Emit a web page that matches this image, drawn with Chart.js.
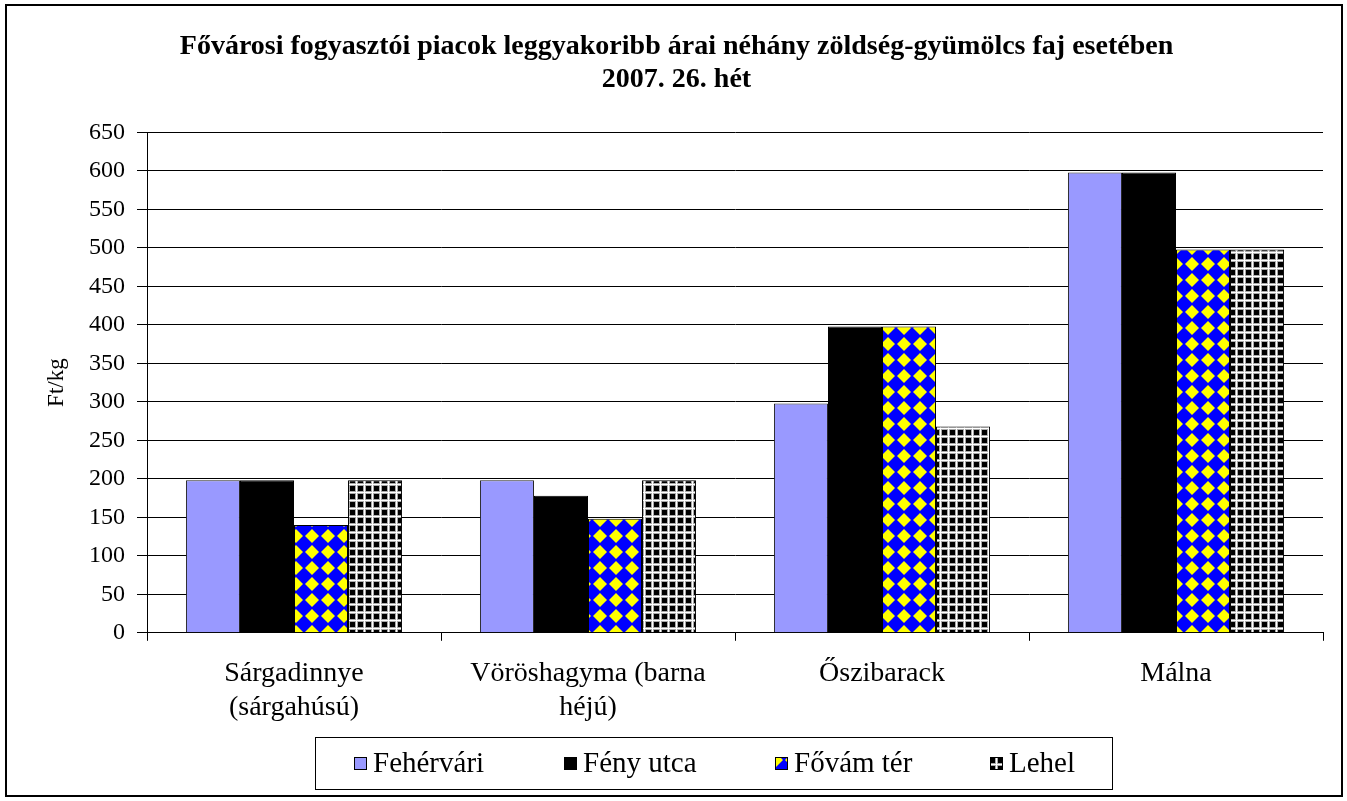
<!DOCTYPE html>
<html>
<head>
<meta charset="utf-8">
<script src="https://cdn.jsdelivr.net/npm/chart.js@4.4.0/dist/chart.umd.min.js"></script>
<style>
html, body { margin: 0; padding: 0; background: #fff; }
</style>
</head>
<body>
<canvas id="myChart" width="1347" height="801"></canvas>
<script>
// piaci árak, 2007. 26. hét
const categories = [['Sárgadinnye', '(sárgahúsú)'], ['Vöröshagyma (barna', 'héjú)'], 'Őszibarack', 'Málna']
const fehervari = [198, 198, 298, 598]
const fenyUtca = [198, 178, 398, 598]
const fovamTer = [140, 148, 398, 498]
const lehel = [198, 198, 268, 498]
const seriesNames = ['Fehérvári', 'Fény utca', 'Fővám tér', 'Lehel']
const titleLines = ['Fővárosi fogyasztói piacok leggyakoribb árai néhány zöldség-gyümölcs faj esetében', '2007. 26. hét']
const yMin = 0
const yMax = 650
const yStep = 50

const serif = '"Liberation Serif", "Times New Roman", serif'
Chart.defaults.font.family = serif
Chart.defaults.color = '#000'

// blue/yellow diamond checker (Fővám tér)
function diamondPattern() {
    const c = document.createElement('canvas')
    c.width = 16
    c.height = 16
    const x = c.getContext('2d')
    x.fillStyle = '#0000ff'
    x.fillRect(0, 0, 16, 16)
    x.fillStyle = '#ffff00'
    const r = 7
    x.beginPath()
    x.moveTo(8, 8 - r)
    x.lineTo(8 + r, 8)
    x.lineTo(8, 8 + r)
    x.lineTo(8 - r, 8)
    x.closePath()
    x.fill()
    return x.createPattern(c, 'repeat')
}

// white grid on black (Lehel)
function gridPattern() {
    const c = document.createElement('canvas')
    c.width = 8
    c.height = 8
    const x = c.getContext('2d')
    x.fillStyle = '#000'
    x.fillRect(0, 0, 8, 8)
    x.fillStyle = '#aaa'
    x.fillRect(3, 0, 3, 8)
    x.fillRect(0, 3, 8, 3)
    x.fillStyle = '#fff'
    x.fillRect(4, 0, 1, 8)
    x.fillRect(0, 4, 8, 1)
    return x.createPattern(c, 'repeat')
}

// legend box + outer frame
const frameAndLegend = {
    id: 'frameAndLegend',
    afterDraw(chart) {
        const ctx = chart.ctx
        ctx.save()
        ctx.strokeStyle = '#000'
        ctx.lineWidth = 1
        ctx.strokeRect(315.5, 737.5, 797, 52)
        const itemX = [354, 564, 775, 990]
        ctx.font = '29px ' + serif
        ctx.textBaseline = 'middle'
        chart.data.datasets.forEach((ds, i) => {
            const x = itemX[i]
            ctx.fillStyle = ds.backgroundColor
            ctx.fillRect(x, 757, 13, 13)
            ctx.strokeRect(x + 0.5, 757.5, 12, 12)
            ctx.fillStyle = '#000'
            ctx.fillText(ds.label, x + 19, 764)
        })
        ctx.lineWidth = 2
        ctx.strokeRect(6, 5, 1336, 791)
        ctx.restore()
    }
}

const ctx = document.getElementById('myChart')
const myChart = new Chart(ctx, {
    type: 'bar',
    data: {
        labels: categories,
        datasets: [
            { label: seriesNames[0], data: fehervari, backgroundColor: '#9999ff', borderColor: '#222', borderWidth: 1 },
            { label: seriesNames[1], data: fenyUtca, backgroundColor: '#000000', borderColor: '#000', borderWidth: 1 },
            { label: seriesNames[2], data: fovamTer, backgroundColor: diamondPattern(), borderColor: '#000', borderWidth: 1 },
            { label: seriesNames[3], data: lehel, backgroundColor: gridPattern(), borderColor: '#000', borderWidth: 1 }
        ]
    },
    options: {
        responsive: false,
        animation: false,
        devicePixelRatio: 1,
        categoryPercentage: 0.735,
        barPercentage: 1,
        layout: {
            padding: { left: 30, right: 24, top: 10, bottom: 61 }
        },
        scales: {
            x: {
                grid: {
                    offset: true,
                    drawOnChartArea: false,
                    tickLength: 8,
                    color: '#000'
                },
                border: { color: '#000', width: 1 },
                ticks: {
                    font: { size: 28, lineHeight: 1.2 },
                    padding: 16,
                    maxRotation: 0
                }
            },
            y: {
                min: yMin,
                max: yMax,
                afterFit(scale) {
                    scale.width = 117
                },
                ticks: {
                    stepSize: yStep,
                    font: { size: 24 },
                    padding: 12
                },
                grid: {
                    color: '#000',
                    lineWidth: 1,
                    tickLength: 10
                },
                border: { color: '#000', width: 1 },
                title: {
                    display: true,
                    text: 'Ft/kg',
                    font: { size: 23 },
                    padding: { top: 13, bottom: 0 }
                }
            }
        },
        plugins: {
            legend: { display: false },
            tooltip: { enabled: false },
            title: {
                display: true,
                text: titleLines,
                font: { size: 28, weight: 'bold', lineHeight: 1.15 },
                color: '#000',
                padding: { top: 21, bottom: 37 }
            }
        }
    },
    plugins: [frameAndLegend]
})
</script>
</body>
</html>
